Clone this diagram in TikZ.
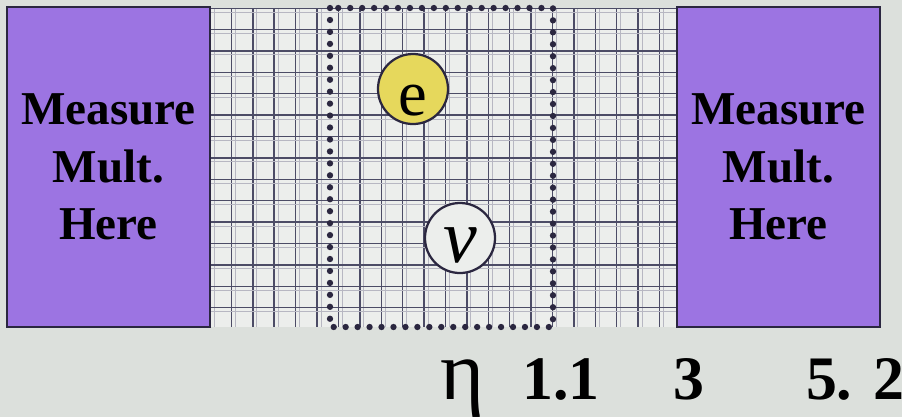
\documentclass[tikz,border=0pt]{standalone}
\usepackage{fontspec}
\setmainfont{Liberation Serif}
\usepackage{tikz}
\usetikzlibrary{positioning}
\definecolor{mmPurple}{HTML}{9C74E2}
\definecolor{mmEdge}{HTML}{2B2740}
\definecolor{mmPaper}{HTML}{DCE0DC}
\definecolor{mmCell}{HTML}{ECEEEC}
\definecolor{mmLine}{HTML}{4C4C66}
\definecolor{mmYellow}{HTML}{E6D85C}
\tikzset{
  measbox/.style={rectangle,draw=mmEdge,fill=mmPurple,line width=2pt,
    minimum width=5.075cm,minimum height=8cm,align=center,
    font=\fontsize{33.5}{41}\selectfont\bfseries},
  particle/.style={circle,draw=mmEdge,line width=1.6pt,
    minimum size=1.75cm,inner sep=0pt,text depth=0pt},
  gridline/.style={draw=mmLine,line width=1pt},
  gridfaint/.style={draw=mmLine!40,line width=0.5pt},
  dotframe/.style={draw=mmEdge,line width=4.5pt,line cap=round,
    dash pattern=on 0pt off 8.5pt},
  etalabel/.style={anchor=base,font=\fontsize{44}{44}\selectfont\bfseries}
}

\begin{document}
\begin{tikzpicture}[x=0.025cm, y=-0.025cm]
\useasboundingbox (0,0) rectangle (902,417);
\fill[mmPaper] (0,0) rectangle (902,417);

% detector grid
\fill[mmCell] (210,8) rectangle (677,327);
\begin{scope}
\clip (210,8) rectangle (677,327);
\foreach \k in {0,...,22} {
  \draw[gridfaint] ({214+21.4*\k},8) -- ++(0,319);
  \draw[gridline] ({210+21.4*\k},8) -- ++(0,319);
}
\foreach \k in {0,...,15} {
  \draw[gridfaint] (210,{12+21.4*\k}) -- (677,{12+21.4*\k});
  \draw[gridline] (210,{8+21.4*\k}) -- (677,{8+21.4*\k});
}
\end{scope}

\node[measbox] (left) at (108.5,167) {Measure\\Mult.\\Here};
\node[measbox] (right) at (778.5,167) {Measure\\Mult.\\Here};

\draw[dotframe] (330,8) rectangle (553,327);

\node[particle,fill=mmYellow,text height=38pt,
  font=\fontsize{46}{46}\selectfont] (elec) at (413,89) {e};
\node[particle,fill=mmCell,text height=35pt,
  font=\fontsize{54}{54}\selectfont\itshape] (nu) at (460,238) {ν};

% eta axis
\node[anchor=base,font=\fontsize{60}{60}\selectfont] (eta) at (463,399) {η};
\node[etalabel] (etaA) at (561,399) {1.1};
\node[etalabel] (etaB) at (689,399) {3};
\node[etalabel] (etaC) at (855,399) {5. 2};
\end{tikzpicture}
\end{document}
